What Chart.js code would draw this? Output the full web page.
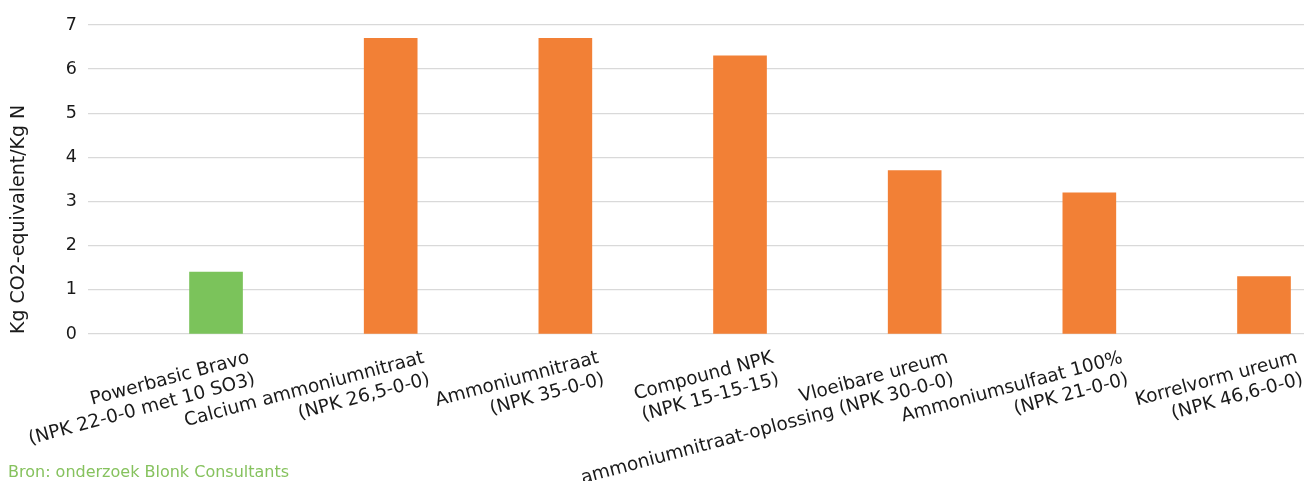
<!DOCTYPE html>
<html>
<head>
<meta charset="utf-8">
<script src="https://cdn.jsdelivr.net/npm/chart.js@4.4.1/dist/chart.umd.min.js"></script>
<style>
  html, body { margin: 0; padding: 0; background: #fff; }
  #wrap { width: 1307px; height: 481px; }
</style>
</head>
<body>
<div id="wrap"><canvas id="chart" width="1307" height="481"></canvas></div>
<script>
// fertiliser types, two lines each
const categories = [
  ["Powerbasic Bravo", "(NPK 22-0-0 met 10 SO3)"],
  ["Calcium ammoniumnitraat", "(NPK 26,5-0-0)"],
  ["Ammoniumnitraat", "(NPK 35-0-0)"],
  ["Compound NPK", "(NPK 15-15-15)"],
  ["Vloeibare ureum", "ammoniumnitraat-oplossing (NPK 30-0-0)"],
  ["Ammoniumsulfaat 100%", "(NPK 21-0-0)"],
  ["Korrelvorm ureum", "(NPK 46,6-0-0)"]
];
// Kg CO2-eq per Kg N
const emissions = [1.4, 6.7, 6.7, 6.3, 3.7, 3.2, 1.3];
const yTicks = [0, 1, 2, 3, 4, 5, 6, 7];
const yTitle = "Kg CO2-equivalent/Kg N";
const sourceNote = "Bron: onderzoek Blonk Consultants";

const GREEN = "#7bc35b";
const ORANGE = "#f28036";
const FONT = "'DejaVu Sans', sans-serif";
const TEXT = "#1a1a1a";

const sourcePlugin = {
  id: "sourceNote",
  afterDraw(chart) {
    const ctx = chart.ctx;
    ctx.save();
    ctx.font = "16px " + FONT;
    ctx.fillStyle = "#86c25e";
    ctx.textAlign = "left";
    ctx.textBaseline = "middle";
    ctx.fillText(sourceNote, 8, 473);
    ctx.restore();
  }
};

const ctx = document.getElementById("chart").getContext("2d");
new Chart(ctx, {
  type: "bar",
  data: {
    datasets: [{
      data: emissions.map((v, i) => ({ x: i, y: v })),
      backgroundColor: emissions.map((v, i) => (i === 0 ? GREEN : ORANGE)),
      borderWidth: 0,
      barThickness: 53
    }]
  },
  options: {
    responsive: false,
    animation: false,
    layout: { padding: { top: 25, right: 3, left: 0, bottom: 0 } },
    plugins: {
      legend: { display: false },
      tooltip: { enabled: false }
    },
    scales: {
      x: {
        type: "linear",
        offset: false,
        min: -0.733,
        max: 6.229,
        grid: { display: false },
        border: { display: false },
        afterBuildTicks: (axis) => {
          axis.ticks = categories.map((c, i) => ({ value: i }));
        },
        afterFit: (axis) => {
          axis.height = 147;
          axis.paddingLeft = 0;
          axis.paddingRight = 0;
        },
        ticks: {
          autoSkip: false,
          minRotation: 15,
          maxRotation: 15,
          padding: 5,
          labelOffset: 33,
          color: TEXT,
          font: { family: FONT, size: 18.5 },
          callback: (v) => categories[v]
        }
      },
      y: {
        min: 0,
        max: 7,
        afterBuildTicks: (axis) => {
          axis.ticks = yTicks.map((t) => ({ value: t }));
        },
        afterFit: (axis) => { axis.width = 88; },
        grid: { color: "#d9d9d9", lineWidth: 1.3, drawTicks: false },
        border: { display: false },
        ticks: {
          padding: 11,
          color: TEXT,
          font: { family: FONT, size: 17.5 }
        },
        title: {
          display: true,
          text: yTitle,
          align: "start",
          color: TEXT,
          padding: { top: 8, bottom: 0 },
          font: { family: FONT, size: 19 }
        }
      }
    }
  },
  plugins: [sourcePlugin]
});
</script>
</body>
</html>
